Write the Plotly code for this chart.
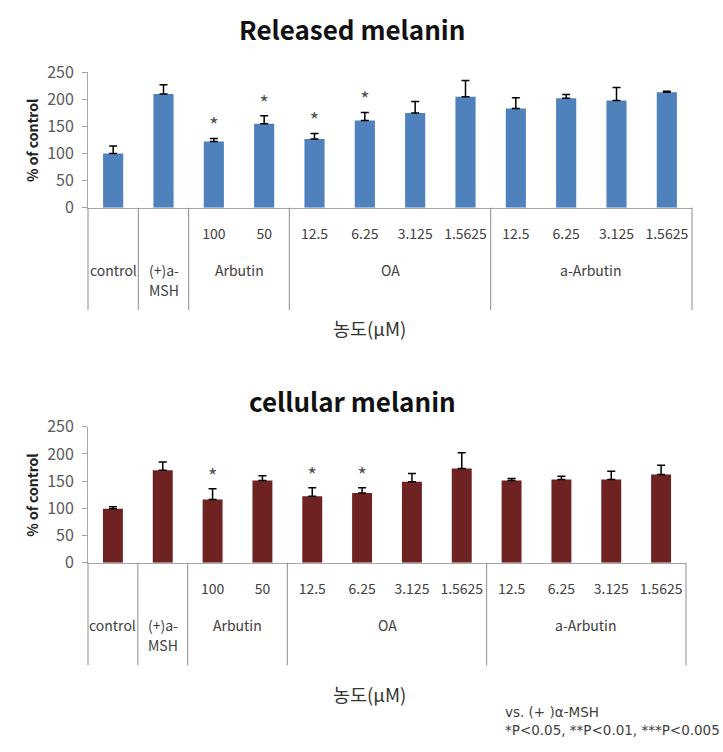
import plotly.graph_objects as go

W, H = 723, 752
FONT = "Noto Sans CJK KR"

# ---- data ----
groups = ["control", "(+)a-<br>MSH", "Arbutin", "OA", "a-Arbutin"]
group_sizes = [1, 1, 2, 4, 4]
conc_labels = ["", "", "100", "50", "12.5", "6.25", "3.125", "1.5625",
               "12.5", "6.25", "3.125", "1.5625"]

released_vals = [100, 210, 122, 155, 127, 161, 175, 205, 183, 202, 198, 213]
released_err = [14, 17, 6, 15, 10, 15, 21, 30, 20, 7, 24, 2]
released_sig = ["", "", "*", "*", "*", "*", "", "", "", "", "", ""]

cellular_vals = [99, 170, 116, 151, 122, 128, 149, 173, 151, 153, 153, 162]
cellular_err = [4, 15, 20, 9, 16, 10, 15, 29, 4, 6, 15, 17]
cellular_sig = ["", "", "*", "", "*", "*", "", "", "", "", "", ""]

titles = ["Released melanin", "cellular melanin"]
colors = ["#4f81bd", "#6f2222"]
y_ticks = [0, 50, 100, 150, 200, 250]
footnote = ["vs. (+ )α-MSH", "*P<0.05, **P<0.01, ***P<0.005"]

n = len(conc_labels)
idx = list(range(n))

# ---- layout geometry (pixels) ----
panels = [
    dict(x0=88, x1=692, ytop=72.3, ybot=207.7, title_y=28, xtitle_y=328,
         vals=released_vals, err=released_err, sig=released_sig),
    dict(x0=88, x1=686, ytop=426.7, ybot=562.7, title_y=400, xtitle_y=694,
         vals=cellular_vals, err=cellular_err, sig=cellular_sig),
]

fig = go.Figure()
annotations = []
shapes = []

for k, p in enumerate(panels):
    xa = "x" if k == 0 else "x2"
    ya = "y" if k == 0 else "y2"
    xa_ref = "xaxis" if k == 0 else "xaxis2"
    ya_ref = "yaxis" if k == 0 else "yaxis2"

    fig.add_trace(go.Bar(
        x=idx, y=p["vals"], xaxis=xa, yaxis=ya, width=0.4,
        marker=dict(color=colors[k], line=dict(width=0)),
        error_y=dict(type="data", symmetric=False, array=p["err"],
                     arrayminus=[0] * n, color="black", thickness=1.5, width=4),
        showlegend=False, hoverinfo="skip",
    ))
    fig.add_trace(go.Scatter(
        x=idx, y=[v + e for v, e in zip(p["vals"], p["err"])],
        xaxis=xa, yaxis=ya, mode="text", text=p["sig"],
        textposition="top center",
        textfont=dict(family=FONT, size=20, color="#505050"),
        showlegend=False, hoverinfo="skip",
    ))

    fig.layout[xa_ref] = dict(
        domain=[p["x0"] / W, p["x1"] / W], anchor=ya,
        range=[-0.5, n - 0.5], tickvals=idx, ticktext=conc_labels,
        ticks="", showline=True, linecolor="#a6a6a6", linewidth=1,
        showgrid=False, zeroline=False, automargin=False,
        tickfont=dict(family=FONT, size=14, color="#404040"),
        ticklabelstandoff=13,
    )
    fig.layout[ya_ref] = dict(
        domain=[1 - p["ybot"] / H, 1 - p["ytop"] / H], anchor=xa,
        range=[0, 250], tickvals=y_ticks, ticks="outside", ticklen=5,
        tickcolor="#a6a6a6", showline=True, linecolor="#a6a6a6", linewidth=1,
        showgrid=False, zeroline=False, automargin=False,
        tickfont=dict(family=FONT, size=16, color="#595959"),
        ticklabelstandoff=5,
    )

    # titles
    annotations.append(dict(
        text="<b>" + titles[k] + "</b>", xref="paper", yref="paper",
        x=352 / W, y=1 - p["title_y"] / H, xanchor="center", yanchor="middle",
        showarrow=False, font=dict(family=FONT, size=26, color="#111111"),
    ))
    # y title
    annotations.append(dict(
        text="<b>% of control</b>", xref="paper", yref=ya + " domain",
        x=32 / W, y=0.5, xanchor="center", yanchor="middle", textangle=-90,
        showarrow=False, font=dict(family=FONT, size=14, color="#222222"),
    ))
    # x title
    annotations.append(dict(
        text="농도(μM)", xref="paper", yref="paper",
        x=370 / W, y=1 - p["xtitle_y"] / H, xanchor="center", yanchor="middle",
        showarrow=False, font=dict(family=FONT, size=18.5, color="#333333"),
    ))

    # group labels (one annotation per line) and dividers
    start = 0
    bounds = [0]
    for g, s in zip(groups, group_sizes):
        center = start + (s - 1) / 2
        for li, line in enumerate(g.split("<br>")):
            annotations.append(dict(
                text=line, xref=xa, yref=ya + " domain", x=center, y=0,
                xanchor="center", yanchor="middle", yshift=-62 - 20 * li,
                showarrow=False, font=dict(family=FONT, size=14, color="#404040"),
            ))
        start += s
        bounds.append(start)
    for b in bounds:
        shapes.append(dict(
            type="line", xref=xa + " domain", yref=ya + " domain",
            x0=b / n, x1=b / n, y0=0, y1=-0.755,
            line=dict(color="#8c8c8c", width=1),
        ))

for li, line in enumerate(footnote):
    annotations.append(dict(
        text=line, xref="paper", yref="paper", x=503 / W,
        y=1 - (712 + 18 * li) / H, xanchor="left", yanchor="middle",
        align="left", showarrow=False,
        font=dict(family="DejaVu Sans", size=13.5, color="#404040"),
    ))

fig.update_layout(
    width=W, height=H, margin=dict(l=0, r=0, t=0, b=0),
    paper_bgcolor="white", plot_bgcolor="white",
    annotations=annotations, shapes=shapes, bargap=0.6,
    font=dict(family=FONT),
)

fig.write_html("out.html")
